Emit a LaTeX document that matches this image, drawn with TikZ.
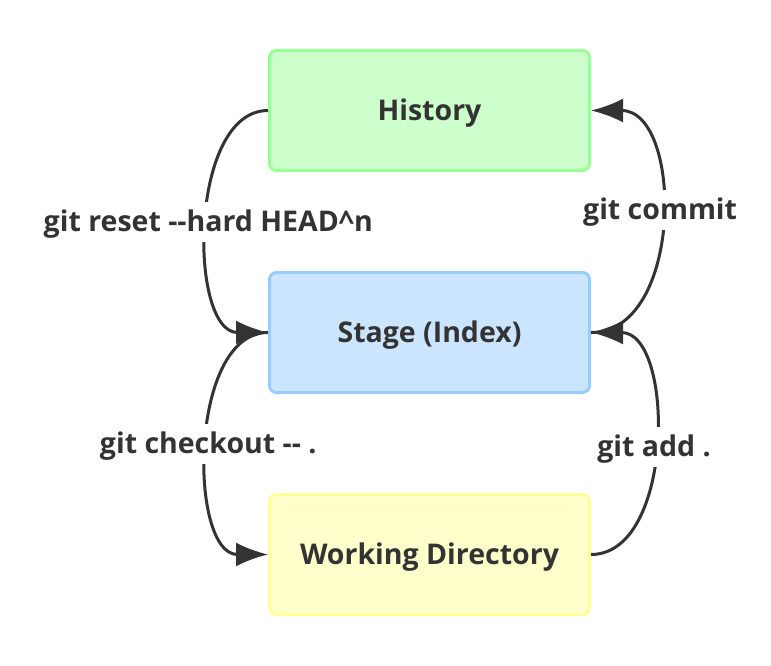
\documentclass[tikz,border=0pt]{standalone}
\usepackage{fontspec}
\setmainfont{Open Sans}
\usetikzlibrary{arrows.meta}
\definecolor{ink}{HTML}{333333}
\definecolor{hfill}{HTML}{CCFFCC}
\definecolor{hdraw}{HTML}{99FF99}
\definecolor{sfill}{HTML}{CCE5FF}
\definecolor{sdraw}{HTML}{99CCFF}
\definecolor{wfill}{HTML}{FFFFCC}
\definecolor{wdraw}{HTML}{FFFF99}
\tikzset{
  box/.style={rectangle, rounded corners=7pt, line width=3pt, minimum width=320pt, minimum height=120pt,
    inner sep=0pt, text height=20pt, text depth=0pt,
    font=\fontsize{28.5}{32}\selectfont\bfseries, text=ink},
  conn/.style={draw=ink, line width=3pt, -{Latex[length=32pt,width=24pt]}},
  lbl/.style={fill=white, inner sep=0pt, minimum height=40pt, text height=20pt, text depth=0pt,
    font=\fontsize{28.5}{32}\selectfont\bfseries, text=ink}
}
\begin{document}
\begin{tikzpicture}[x=1pt,y=-1pt]
\useasboundingbox (0,0) rectangle (771,666);
\node[box, fill=hfill, draw=hdraw] (hist) at (429.5,110.5) {History};
\node[box, fill=sfill, draw=sdraw] (stage) at (429.5,332.5) {Stage (Index)};
\node[box, fill=wfill, draw=wdraw] (work) at (429.5,554.5) {Working Directory};
\draw[conn] (hist.west) to[out=180,in=180,looseness=0.92] node[lbl, pos=0.5] {git reset -{}-hard HEAD\textasciicircum n} (stage.west);
\draw[conn] (stage.east) to[out=0,in=0,looseness=1.07] node[lbl, pos=0.535] {git commit} (hist.east);
\draw[conn] (stage.west) to[out=180,in=180,looseness=0.92] node[lbl, pos=0.5] {git checkout -{}- .} (work.west);
\draw[conn] (work.east) to[out=0,in=0,looseness=0.97] node[lbl, pos=0.49] {git add .} (stage.east);
\end{tikzpicture}
\end{document}
